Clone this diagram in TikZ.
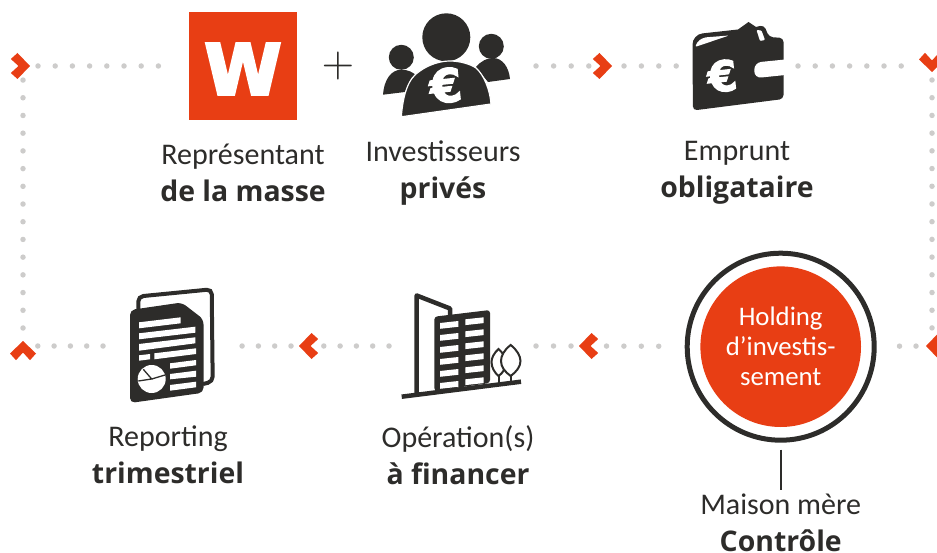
\documentclass[tikz,border=0pt]{standalone}
\usepackage{fontspec}
\setmainfont{Carlito}
\newfontfamily\strongfont{Open Sans}
\newfontfamily\logofont[FakeBold=4]{DejaVu Sans Bold}
\newfontfamily\eurofont[FakeBold=3]{DejaVu Sans Bold}
\usepackage{xcolor}
\usepackage{tikz}

\definecolor{brand}{HTML}{E83E14}
\definecolor{ink}{HTML}{2D2C2A}
\definecolor{dotgrey}{HTML}{CDCCCB}
\newcommand{\strongline}[1]{{\strongfont\bfseries\fontsize{28.4}{37}\selectfont #1}}

\begin{document}
\begin{tikzpicture}[x=1pt, y=-1pt]
        % Define styles
        \tikzstyle{label} = [align=center, text=ink, font=\fontsize{30}{37.5}\selectfont, inner sep=0pt]
        \tikzstyle{iconbox} = [rectangle, minimum height=100pt, inner sep=0pt, outer sep=0pt]
        \tikzstyle{window} = [fill=white]
        \tikzstyle{dotline} = [dotgrey, line width=5.5pt, line cap=round, dash pattern=on 0pt off 17.2pt]
        \tikzset{chevron/.pic={\fill[brand] (-0.5,0) -- (-8.2,-7) -- (-1.5,-13) -- (11,0) -- (-1.5,13) -- (-8.2,7) -- cycle;}}

        \useasboundingbox (0,0) rectangle (937,553);
        \clip (0,0) rectangle (937,553);

        % Nodes
        \node [rectangle, minimum size=108pt, inner sep=0pt, outer sep=0pt, fill=brand, text=white] (wsquare) at (243,66) {};
        \node [inner sep=0pt, text=white, font=\logofont\fontsize{70}{70}\selectfont] (wletter) at (243,69) {W};
        \node [iconbox, minimum width=127pt] (people) at (446.5,66) {};
        \node [iconbox, minimum width=92pt] (wallet) at (738,66) {};
        \node [iconbox, minimum width=84pt] (report) at (172,346) {};
        \node [iconbox, minimum width=120pt] (tower) at (461,346) {};
        \node [circle, minimum size=187pt, inner sep=0pt, draw=ink, line width=5pt] (holding) at (780.7,346.7) {};
        \node [circle, minimum size=160.6pt, inner sep=0pt, fill=brand, text=white, align=center, font=\fontsize{26.8}{30}\selectfont] (holdingcore) at (holding.center) {Holding\\d’investis-\\sement};

        \coordinate (chevTL) at (19,66);
        \coordinate (chevTM) at (601,66);
        \coordinate (chevTR) at (932,61);
        \coordinate (chevBR) at (937,346);
        \coordinate (chevBM) at (590,346);
        \coordinate (chevBN) at (310,346);
        \coordinate (chevBL) at (23,352);

        % Plus sign
        \node [scale=4.2, text=ink, inner sep=0pt] (plus) at (338,66) {$+$};

        % Investors
        \fill [ink] (446.3,37.3) circle (24pt) (401.3,57.3) circle (12.5pt) (491.3,46.3) circle (12.5pt);
        \fill [ink] (383,94.7) .. controls (384,80) and (391,69.7) .. (401.3,69.7) .. controls (408,69.7) and (413,72) .. (418,77) -- (405,92) -- cycle;
        \fill [ink] (476,67) .. controls (481,61) and (487,58) .. (493,58) .. controls (503,58) and (509,68) .. (510,79) -- (488,82) -- cycle;
        \fill [ink, draw=white, line width=1.2pt] (401.3,116.8) .. controls (403,95) and (408,78) .. (420,71) .. controls (428,65) and (440,61) .. (449.7,61) .. controls (460,61) and (470,64) .. (476,68) .. controls (484,75) and (490,90) .. (491,104) -- cycle;
        \node [text=white, rotate=6, inner sep=0pt, font=\eurofont\fontsize{46}{46}\selectfont] (eurotop) at (445.7,85.5) {€};

        % Wallet
        \fill [ink, rounded corners=3pt] (692.5,60) [rounded corners=10pt] -- (692.5,34.5) [rounded corners=0pt] -- (738,29.5) -- (748.5,22) -- (756,27) [rounded corners=4pt] -- (764,25) -- (769,37) -- (783.5,38) -- (783.5,99) -- (693,110.5) -- cycle;
        \fill [white, rounded corners=2pt] (695,47) -- (698,41) -- (704,37.5) -- (729,35.5) -- cycle;
        \fill [white, rounded corners=1pt] (756.5,30) -- (760,41) -- (765,40) -- (761.5,30.5) -- cycle;
        \fill [white, rounded corners=7pt] (800,58) -- (754.3,62.6) -- (754.3,78.2) -- (800,73.5) -- cycle;
        \node [text=white, rotate=6, inner sep=0pt, font=\eurofont\fontsize{42}{42}\selectfont] (eurowallet) at (722.3,76) {€};

        % Report
        \draw [ink, line width=4pt, rounded corners=5pt] (138.3,310) -- (138.3,296.5) -- (211.7,289.3) -- (212.7,381.7) -- (203,384);
        \fill [ink, rounded corners=5pt] (130,310) -- (181.7,302.5) -- (203.5,319.3) -- (203.5,392.7) -- (130,403) -- cycle;
        \fill [window] (139,322.3) -- (180.7,317.3) -- (180.7,323.3) -- (139,328.3) -- cycle;
        \fill [window] (139,333.3) -- (195.3,326.7) -- (195.3,332.7) -- (139,339.3) -- cycle;
        \fill [window] (139,344) -- (195.3,337.3) -- (195.3,343.3) -- (139,350.7) -- cycle;
        \fill [window] (139,355.3) -- (150,354) -- (150,359.3) -- (139,360.7) -- cycle;
        \fill [window] (154.3,353.3) -- (196,348.3) -- (196,354) -- (154.3,359.3) -- cycle;
        \fill [window] (170,363.3) -- (196,360) -- (196,365.3) -- (170,368.7) -- cycle;
        \fill [window] (170,374) -- (196,370.7) -- (196,376.7) -- (170,379.3) -- cycle;
        \fill [window] (170,385) -- (196,381.7) -- (196,387.3) -- (170,390.7) -- cycle;
        \fill [white] (151.7,379) circle (14pt);
        \draw [ink, line width=1.3pt] (143.3,369.3) -- (151.7,379) -- (138.3,381) (151.7,379) -- (165,375);

        % Building
        \draw [ink, line width=4.5pt, line join=round] (416.7,393) -- (416.7,295.5) -- (450,308.5) -- (450,317);
        \fill [ink, rounded corners=3pt] (434.3,316.7) -- (490,310) -- (490,383) -- (434.3,391) -- cycle;
        \foreach \row in {0,...,5} {
            \fill [window] (440,323+12*\row) -- (458.3,321+12*\row) -- (458.3,326.8+12*\row) -- (440,328.8+12*\row) -- cycle;
            \fill [window] (465.3,319.3+12*\row) -- (483.7,317.3+12*\row) -- (483.7,323.1+12*\row) -- (465.3,325.1+12*\row) -- cycle;
        }
        \draw [ink, line width=4.5pt] (401.7,396.7) -- (521,381.7);
        \draw [ink, line width=2pt, fill=white] (498.5,349) .. controls (494,353) and (491.5,358) .. (491.5,362) .. controls (491.5,368) and (495,373) .. (498.5,376) .. controls (503,373) and (506,368) .. (506,362) .. controls (506,358) and (503,353) .. (498.5,349) -- cycle;
        \draw [ink, line width=2pt] (498.5,376) -- (498.5,384);
        \draw [ink, line width=2pt, fill=white] (510.7,345) .. controls (504,350) and (501,356) .. (501,361) .. controls (501,367) and (505,372) .. (510.7,376) .. controls (516,372) and (520.5,367) .. (520.5,361) .. controls (520.5,356) and (517,350) .. (510.7,345) -- cycle;
        \draw [ink, line width=2pt] (510.7,376) -- (510.7,383);

        % Arrows
        \draw [dotline, shorten <=19pt, shorten >=29pt] (chevTL) -- (wsquare);
        \draw [dotline, dash pattern=on 0pt off 17.6pt, shorten <=26pt, shorten >=9pt] (people) -- (chevTM);
        \draw [dotline, dash pattern=on 0pt off 17.4pt, shorten <=23pt, shorten >=10pt] (chevTM) -- (wallet);
        \draw [dotline, shorten <=14pt, shorten >=15pt] (wallet) -- (chevTR |- wallet);
        \draw [dotline, dash pattern=on 0pt off 17.71pt, shorten <=19pt, shorten >=16pt] (chevTR) -- (chevTR |- chevBR);
        \draw [dotline, dash pattern=on 0pt off 16.5pt, shorten <=21pt, shorten >=18pt] (chevBR) -- (holding);
        \draw [dotline, dash pattern=on 0pt off 17.4pt, shorten <=26pt, shorten >=14pt] (holding) -- (chevBM);
        \draw [dotline, dash pattern=on 0pt off 17.5pt, shorten <=19pt, shorten >=13pt] (chevBM) -- (tower);
        \draw [dotline, dash pattern=on 0pt off 16.3pt, shorten <=12pt, shorten >=12pt] (tower) -- (chevBN);
        \draw [dotline, dash pattern=on 0pt off 16.3pt, shorten <=19pt, shorten >=26pt] (chevBN) -- (report);
        \draw [dotline, dash pattern=on 0pt off 16.3pt, shorten <=27pt, shorten >=13pt] (report) -- (report -| chevBL);
        \draw [dotline, dash pattern=on 0pt off 17.71pt, shorten <=24pt, shorten >=12pt] (chevBL) -- (chevBL |- chevTL);

        \pic at (chevTL) {chevron};
        \pic at (chevTM) {chevron};
        \pic [rotate=-90] at (chevTR) {chevron};
        \pic [rotate=180] at (chevBR) {chevron};
        \pic [rotate=180] at (chevBM) {chevron};
        \pic [rotate=180] at (chevBN) {chevron};
        \pic [rotate=90] at (chevBL) {chevron};

        % Labels
        \node [label] (massetext) at (243,173) {Représentant\\\strongline{de la masse}};
        \node [label] (peopletext) at (443,173) {Investisseurs\\\strongline{privés}};
        \node [label] (wallettext) at (737,173) {Emprunt\\\strongline{obligataire}};
        \node [label] (reporttext) at (168,455) {Reporting\\\strongline{trimestriel}};
        \node [label] (towertext) at (458,455) {Opération(s)\\\strongline{à financer}};
        \node [label] (holdingtext) at (780.7,523) {Maison mère\\\strongline{Contrôle}};
        \draw [ink, line width=2.3pt] (holding.south) ++(0,7) -- ++(0,40);
\end{tikzpicture}
\end{document}
